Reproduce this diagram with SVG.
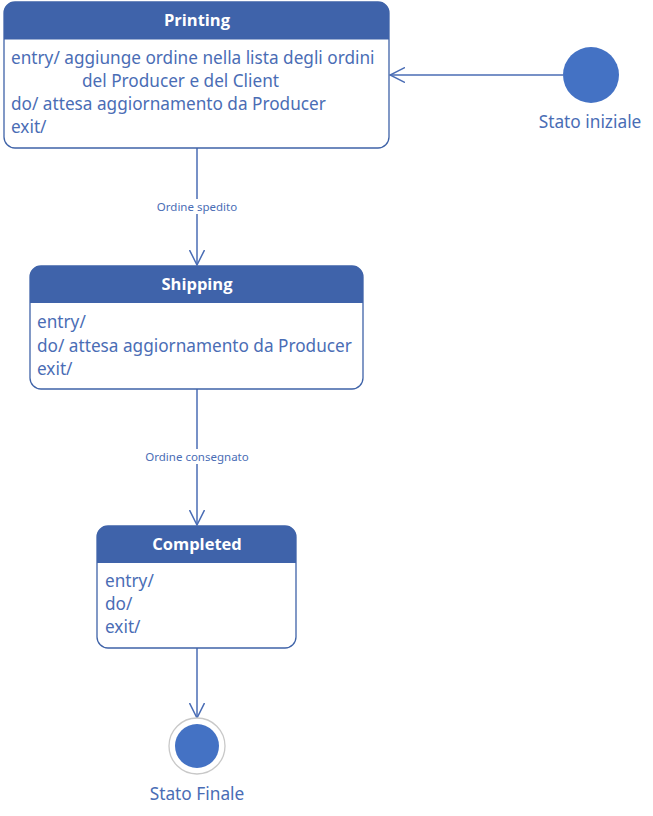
<svg xmlns="http://www.w3.org/2000/svg" width="653" height="816" viewBox="0 0 653 816">
<style>
.box{fill:#ffffff;stroke:#3F63A8;stroke-width:1.3}
.hdr{fill:#3F63AA}
.title{font-family:"Open Sans","Noto Sans",sans-serif;font-weight:bold;font-size:16.5px;fill:#ffffff;text-anchor:middle}
.body{font-family:"Noto Sans","Open Sans",sans-serif;font-size:17.2px;fill:#4A6DB5}
.lbl{font-family:"Noto Sans","Open Sans",sans-serif;font-size:11.5px;fill:#4A6DB5;text-anchor:middle}
.cap{font-family:"Noto Sans","Open Sans",sans-serif;font-size:17.3px;fill:#4A6DB5;text-anchor:middle}
.edge{stroke:#4A6DB5;stroke-width:1.5;fill:none}
</style>
<defs>
<marker id="open" markerWidth="16" markerHeight="16" refX="15" refY="8" orient="auto" markerUnits="userSpaceOnUse">
<path d="M0,0.5 L15,8 L0,15.5" fill="none" stroke="#4A6DB5" stroke-width="1.5"/>
</marker>
</defs>
<rect width="653" height="816" fill="#ffffff"/>
<g id="connectors">
<line class="edge" x1="563" y1="75" x2="390" y2="75" marker-end="url(#open)"/>
<line class="edge" x1="197" y1="148" x2="197" y2="265" marker-end="url(#open)"/>
<rect x="150" y="199" width="94" height="15" fill="#ffffff"/>
<text class="lbl" x="197" y="211">Ordine spedito</text>
<line class="edge" x1="197" y1="389" x2="197" y2="525" marker-end="url(#open)"/>
<rect x="138" y="449" width="118" height="15" fill="#ffffff"/>
<text class="lbl" x="197" y="461">Ordine consegnato</text>
<line class="edge" x1="197" y1="648" x2="197" y2="718" marker-end="url(#open)"/>
</g>
<g id="printing">
<rect class="box" x="4" y="2" width="385" height="146" rx="11"/>
<path class="hdr" d="M4,39 V13 A11,11 0 0 1 15,2 H378 A11,11 0 0 1 389,13 V39 Z"/>
<line x1="4" y1="39" x2="389" y2="39" stroke="#3F63A8" stroke-width="1"/>
<text class="title" x="197" y="26">Printing</text>
<text class="body" x="11" y="64">entry/ aggiunge ordine nella lista degli ordini</text>
<text class="body" x="82" y="87">del Producer e del Client</text>
<text class="body" x="11" y="110">do/ attesa aggiornamento da Producer</text>
<text class="body" x="11" y="133">exit/</text>
</g>
<g id="initial">
<circle cx="591" cy="75" r="28" fill="#4472C4"/>
<text class="cap" x="590" y="128">Stato iniziale</text>
</g>
<g id="shipping">
<rect class="box" x="30" y="266" width="333" height="123" rx="11"/>
<path class="hdr" d="M30,303 V277 A11,11 0 0 1 41,266 H352 A11,11 0 0 1 363,277 V303 Z"/>
<text class="title" x="197" y="290">Shipping</text>
<text class="body" x="37" y="328">entry/</text>
<text class="body" x="37" y="352">do/ attesa aggiornamento da Producer</text>
<text class="body" x="37" y="375">exit/</text>
</g>
<g id="completed">
<rect class="box" x="97" y="526" width="199" height="122" rx="11"/>
<path class="hdr" d="M97,563 V537 A11,11 0 0 1 108,526 H285 A11,11 0 0 1 296,537 V563 Z"/>
<text class="title" x="197" y="550">Completed</text>
<text class="body" x="105" y="587">entry/</text>
<text class="body" x="105" y="610">do/</text>
<text class="body" x="105" y="633">exit/</text>
</g>
<g id="final">
<circle cx="197" cy="746" r="28" fill="#ffffff" stroke="#C8C8C8" stroke-width="1.3"/>
<circle cx="197" cy="746" r="22" fill="#4472C4"/>
<text class="cap" x="197" y="800">Stato Finale</text>
</g>
</svg>
